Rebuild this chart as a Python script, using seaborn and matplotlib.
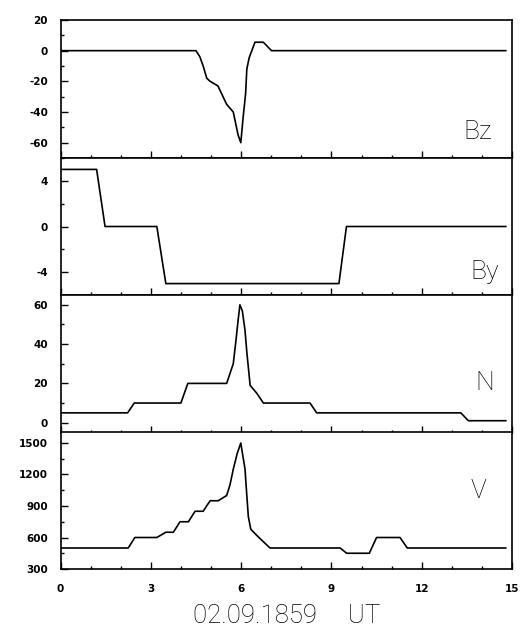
import numpy as np
import pandas as pd
import matplotlib
matplotlib.use("Agg")
import matplotlib.pyplot as plt
from matplotlib.ticker import MultipleLocator
import seaborn as sns

# Bz (nT)
bz_time = [0, 4.5, 4.63, 4.74, 4.86, 4.97, 5.23, 5.52, 5.74, 5.9, 5.99, 6.07, 6.15, 6.19, 6.27, 6.46, 6.74, 7.01, 14.8]
bz_vals = [0, 0, -4, -10, -18, -20, -23, -35, -40, -55, -60, -43, -28, -12, -4.5, 5.5, 5.5, 0, 0]

# By (nT)
by_time = [0, 1.2, 1.48, 3.2, 3.5, 9.25, 9.5, 14.8]
by_vals = [5, 5, 0, 0, -5, -5, 0, 0]

# N (cm^-3)
n_time = [0, 2.23, 2.45, 4.0, 4.23, 5.52, 5.63, 5.74, 5.83, 5.9, 5.96, 6.04, 6.13, 6.19, 6.3,
          6.52, 6.74, 8.29, 8.51, 13.3, 13.55, 14.8]
n_vals = [5, 5, 10, 10, 20, 20, 25, 30, 42, 52, 60, 57, 47, 36, 19, 15, 10, 10, 5, 5, 1, 1]

# V (km/s)
v_time = [0, 2.25, 2.47, 3.2, 3.5, 3.75, 3.97, 4.25, 4.47, 4.74, 4.97, 5.24, 5.52, 5.63, 5.74,
          5.87, 5.99, 6.13, 6.19, 6.24, 6.32, 6.52, 6.74, 6.96, 9.29, 9.51, 10.26, 10.5, 11.28,
          11.52, 14.8]
v_vals = [500, 500, 600, 600, 650, 650, 750, 750, 850, 850, 950, 950, 1000, 1100, 1250,
          1400, 1500, 1250, 1000, 800, 680, 620, 560, 500, 500, 450, 450, 600, 600,
          500, 500]

panels = [
    ("Bz", bz_time, bz_vals, (-70, 20), 20, 10),
    ("By", by_time, by_vals, (-6, 6), 4, 2),
    ("N", n_time, n_vals, (-5, 65), 20, 10),
    ("V", v_time, v_vals, (300, 1600), 300, 150),
]
label_pos = [(0.925, 0.19), (0.94, 0.17), (0.94, 0.36), (0.925, 0.57)]

sns.set_style("ticks")
plt.rcParams["font.family"] = ["DejaVu Sans"]
plt.rcParams["axes.unicode_minus"] = False
plt.rcParams["text.color"] = "black"
plt.rcParams["xtick.color"] = "black"
plt.rcParams["ytick.color"] = "black"
plt.rcParams["axes.labelcolor"] = "black"

fig = plt.figure(figsize=(5.23, 6.27), dpi=100)
left, right = 60.5 / 523, 512 / 523
edges = [20, 158, 295, 432.5, 569]

axes = []
for i, (name, t, v, ylim, major, minor) in enumerate(panels):
    top = 1 - edges[i] / 627
    bot = 1 - edges[i + 1] / 627
    ax = fig.add_axes([left, bot, right - left, top - bot])
    df = pd.DataFrame({"time": t, "value": v})
    sns.lineplot(data=df, x="time", y="value", ax=ax, color="black",
                 linewidth=1.2, estimator=None, sort=False)
    ax.set_xlim(0, 15)
    ax.set_ylim(*ylim)
    ax.xaxis.set_major_locator(MultipleLocator(3))
    ax.xaxis.set_minor_locator(MultipleLocator(1))
    ax.yaxis.set_major_locator(MultipleLocator(major))
    ax.yaxis.set_minor_locator(MultipleLocator(minor))
    ax.tick_params(which="both", direction="in", top=False, right=False,
                   color="black", width=1.0)
    ax.tick_params(which="major", length=5)
    ax.tick_params(which="minor", length=2.5)
    ax.tick_params(axis="y", which="major", pad=9, labelsize=7.5,
                   labelcolor="black")
    for lab in ax.get_yticklabels():
        lab.set_fontweight("bold")
    for s in ax.spines.values():
        s.set_linewidth(1.2)
        s.set_color("black")
    ax.set_xlabel("")
    ax.set_ylabel("")
    ax.text(label_pos[i][0], label_pos[i][1], name, transform=ax.transAxes,
            ha="center", va="center", fontsize=19, family="Roboto",
            fontweight="light", color="black")
    if i < 3:
        ax.tick_params(axis="x", labelbottom=False)
    axes.append(ax)

bottom = axes[-1]
bottom.tick_params(axis="x", which="major", pad=11, labelsize=7.5,
                   labelcolor="black")
for lab in bottom.get_xticklabels():
    lab.set_fontweight("bold")
bottom.set_xlabel("02.09.1859     UT", fontsize=18.5, family="Roboto",
                  fontweight="light", color="black", labelpad=7)

fig.savefig("out.png", dpi=100)
